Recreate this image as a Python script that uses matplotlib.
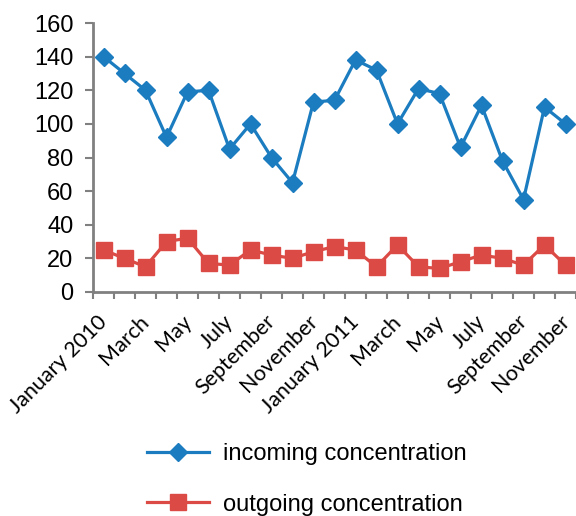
import matplotlib
matplotlib.use("Agg")
import matplotlib.pyplot as plt
import numpy as np

months = ["January 2010", "February", "March", "April", "May", "June", "July", "August",
          "September", "October", "November", "December", "January 2011", "February",
          "March", "April", "May", "June", "July", "August", "September", "October", "November"]
incoming = [140, 130, 120, 92, 119, 120, 85, 100, 80, 65, 113, 114, 138, 132, 100, 121,
            118, 86, 111, 78, 55, 110, 100]
outgoing = [25, 20, 15, 30, 32, 17, 16, 25, 22, 20, 24, 27, 25, 15, 28, 15, 14, 18, 22,
            20, 16, 28, 16]
yticks = [0, 20, 40, 60, 80, 100, 120, 140, 160]

blue = "#1b7cc0"
red = "#dc4a45"
gray = "#808080"

fig = plt.figure(figsize=(5.76, 5.16), dpi=100)
ax = fig.add_axes([93/576, 1-292/516, (576-93)/576, (292-23)/516])

x = np.arange(len(months))
ax.plot(x, incoming, color=blue, lw=2.3, marker="D", ms=9.5, mec=blue, mfc=blue,
        label="incoming concentration")
ax.plot(x, outgoing, color=red, lw=2.3, marker="s", ms=11.5, mec=red, mfc=red,
        label="outgoing concentration")

ax.set_xlim(-0.5, len(months) - 0.5)
ax.set_ylim(0, 160)
ax.set_yticks(yticks)
ax.set_yticklabels([str(v) for v in yticks], fontfamily="Liberation Sans", fontsize=17)

# label anchors sit slightly left of each category centre, as in the reference
ax.set_xticks(x[::2] - 0.3)
ax.set_xticklabels(months[::2], rotation=45, ha="right", rotation_mode="anchor",
                   fontfamily="Lato", fontsize=15.5)
ax.set_xticks(np.arange(-0.5, len(months)), minor=True)
ax.tick_params(axis="x", which="major", length=0, pad=14)
ax.tick_params(axis="x", which="minor", length=5, width=1.5, color=gray, direction="out")
ax.tick_params(axis="y", length=6, width=1.5, color=gray, direction="out", pad=8)

for s in ["top", "right"]:
    ax.spines[s].set_visible(False)
for s in ["left", "bottom"]:
    ax.spines[s].set_color(gray)
    ax.spines[s].set_linewidth(2)

leg = fig.legend(loc="upper left", bbox_to_anchor=(126/576, 1-422/516), frameon=False,
                 prop={"family": "Liberation Sans", "size": 17}, handlelength=2.6,
                 labelspacing=1.2, handletextpad=0.6)

fig.savefig("out.png", dpi=100)
